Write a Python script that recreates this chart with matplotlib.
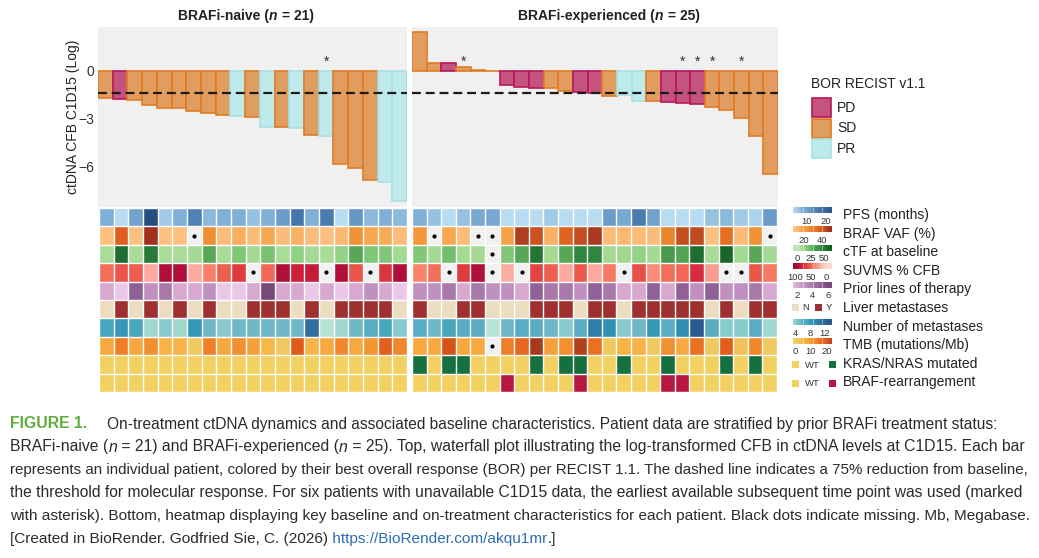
import matplotlib
matplotlib.use("Agg")
import matplotlib.pyplot as plt
import numpy as np
from matplotlib.colors import LinearSegmentedColormap, ListedColormap, to_rgba
from matplotlib.patches import Rectangle

W, H = 1039, 558            # output size (px)
DPI = 100

plt.rcParams['font.family'] = ['Liberation Sans', 'DejaVu Sans']

# waterfall: log CFB of ctDNA at C1D15, best overall response, asterisk flags
NAIVE_CFB = [-1.71, -1.75, -1.81, -2.13, -2.29, -2.33, -2.50, -2.65, -2.75, -2.81, -2.85,
             -3.48, -3.52, -3.58, -4.00, -4.04, -5.81, -6.08, -6.81, -6.92, -8.10]
NAIVE_BOR = ["SD", "PD", "SD", "SD", "SD", "SD", "SD", "SD", "SD", "PR", "SD",
             "PR", "SD", "PR", "SD", "PR", "SD", "SD", "SD", "PR", "PR"]
NAIVE_STAR = [15]

EXP_CFB = [2.42, 0.52, 0.48, 0.23, 0.04, 0.02, -0.88, -0.98, -1.08, -1.08, -1.23, -1.33,
           -1.40, -1.54, -1.50, -1.88, -1.88, -1.96, -2.02, -2.08, -2.23, -2.44, -2.96,
           -4.04, -6.46]
EXP_BOR = ["SD", "SD", "PD", "SD", "SD", "SD", "PD", "PD", "PD", "SD", "SD", "PD", "PD",
           "SD", "PR", "PR", "SD", "PD", "PD", "PD", "SD", "SD", "SD", "SD", "SD"]
EXP_STAR = [3, 18, 19, 20, 22]

THRESHOLD = np.log(0.25)    # 75% reduction
BOR_ORDER = ["PD", "SD", "PR"]

# heatmap rows (None = missing)
N = None
ROW_NAMES = ["PFS (months)", "BRAF VAF (%)", "cTF at baseline", "SUVMS % CFB",
             "Prior lines of therapy", "Liver metastases", "Number of metastases",
             "TMB (mutations/Mb)", "KRAS/NRAS mutated", "BRAF-rearrangement"]

naive_pfs = [8, 3, 10, 24, 5, 8, 15, 7, 8, 8, 6, 8, 11, 17, 8, 16, 3, 12, 7, 8, 7]
naive_vaf = [10, 38, 10, 50, 10, 10, N, 25, 11, 15, 11, 17, 11, 14, 11, 10, 12, 24, 17, 16, 11]
naive_ctf = [8, 55, 8, 50, 8, 8, 9, 30, 8, 18, 9, 20, 8, 14, 9, 8, 13, 30, 18, 18, 9]
naive_suv = [45, 55, 50, 22, 90, 90, 22, 40, 50, 65, N, 47, 90, 78, 82, N, 90, 55, N, 68, 90]
naive_lines = [2, 1, 5, 3, 4, 2, 2, 3, 1, 1, 2, 6, 2, 2, 1, 2, 1, 2, 3, 2, 1]
naive_liver = [0, 1, 0, 1, 0, 1, 0, 1, 0, 0, 1, 1, 1, 0, 1, 0, 1, 1, 1, 1, 0]
naive_nmet = [7, 8, 7, 3, 4, 3, 8, 5, 4, 5, 5, 5, 5, 5, 11, 2, 3, 5, 6, 7, 4]
naive_tmb = [8, 14, 8, 12, 6, 6, 2, 14, 8, 12, 9, 5, 2, 20, 6, 8, 13, 8, 11, 19, 13]
naive_kras = [0] * 21
naive_rearr = [0] * 21

exp_pfs = [8, 6, 3, 6, 9, 9, 3, 3, 3, 5, 3, 3, 3, 11, 9, 16, 10, 3, 3, 3, 6, 7, 5, 4, 11]
exp_vaf = [22, N, 17, 11, N, N, 19, 47, 42, 14, 37, 43, 48, 11, 12, 11, 11, 28, 43, 44,
           10, 34, 11, 24, N]
exp_ctf = [18, 9, 22, 9, 9, N, 18, 30, 52, 9, 30, 45, 45, 9, 10, 13, 9, 36, 32, 55, 8, 58,
           9, 30, 9]
exp_suv = [38, 45, N, 65, 90, N, 20, N, 62, 50, 22, 53, 23, 42, N, 57, 35, 46, 48, 72, 28,
           N, N, 54, 42]
exp_lines = [3, 3, 4, 2, 4, 3, 3, 2, 5, 4, 4, 3, 5, 4, 2, 2, 5, 2, 5, 3, 5, 3, 3, 4, 2]
exp_liver = [1, 0, 0, 1, 1, 0, 0, 0, 1, 1, 1, 0, 1, 1, 0, 1, 1, 1, 1, 1, 0, 1, 0, 1, 1]
exp_nmet = [6, 5, 7, 6, 6, 2, 5, 6, 6, 5, 4, 6, 10, 9, 4, 5, 8, 6, 9, 13, 6, 4, 4, 6, 3]
exp_tmb = [8, 8, 21, 8, 8, N, 14, 17, 25, 9, 12, 24, 16, 2, 6, 6, 2, 12, 8, 16, 2, 19, 3,
           13, 2]
exp_kras = [1, 0, 1, 1, 0, 0, 0, 0, 1, 0, 1, 1, 0, 0, 1, 0, 0, 1, 0, 0, 0, 1, 0, 1, 0]
exp_rearr = [0, 0, 0, 0, 0, 0, 1, 0, 0, 0, 0, 1, 0, 0, 0, 0, 0, 1, 1, 0, 0, 0, 0, 0, 0]

NAIVE_ROWS = [naive_pfs, naive_vaf, naive_ctf, naive_suv, naive_lines, naive_liver,
              naive_nmet, naive_tmb, naive_kras, naive_rearr]
EXP_ROWS = [exp_pfs, exp_vaf, exp_ctf, exp_suv, exp_lines, exp_liver,
            exp_nmet, exp_tmb, exp_kras, exp_rearr]

# legend ticks for the continuous rows: (value at left end, value at right end, ticks)
LEGEND_BARS = {0: (3, 23, [10, 20]),
               1: (7, 52, [20, 40]),
               2: (-8, 64, [0, 25, 50]),
               3: (106, -18, [100, 50, 0]),
               4: (1.4, 6.5, [2, 4, 6]),
               6: (3.2, 13.9, [4, 8, 12]),
               7: (-1.3, 23.3, [0, 10, 20])}
LEGEND_CATS = {5: ["N", "Y"], 8: ["WT", ""], 9: ["WT", ""]}

# colours
FACE = {"PD": "#c4537f", "SD": "#e09d5f", "PR": "#bfeaec"}
EDGE = {"PD": "#b8175a", "SD": "#e07c25", "PR": "#a9e1e5"}
MISSING = "#f1f1f1"
TXT = "#222222"


def cmap_from(stops, colors, vmin, vmax):
    pos = [(v - vmin) / (vmax - vmin) for v in stops]
    return LinearSegmentedColormap.from_list("c", list(zip(pos, colors)))


SCALES = [
    (cmap_from([0, 3, 8, 16, 25], ["#d4ecf8", "#b8dcf0", "#80b0d8", "#4a7cb0", "#24497a"], 0, 25), 0, 25),
    (cmap_from([0, 10, 17, 25, 38, 44, 50], ["#fdd8b0", "#fcc080", "#f8a850", "#f09030",
                                             "#e06020", "#c04c20", "#a03020"], 0, 50), 0, 50),
    (cmap_from([0, 8, 18, 30, 45, 60], ["#c0e8b0", "#a8dc98", "#80c878", "#58a858",
                                        "#308840", "#186028"], 0, 60), 0, 60),
    (cmap_from([0, 22, 40, 50, 65, 78, 90, 100], ["#fdd5cc", "#fcaaa0", "#f88068", "#f06050",
                                                  "#e03c40", "#d02038", "#b0103a", "#a00835"], 0, 100), 0, 100),
    (cmap_from([1, 2, 3, 4, 5, 6], ["#ecc8e8", "#d8a8d0", "#c090c0", "#a878a8",
                                    "#906098", "#784878"], 1, 6), 1, 6),
    (ListedColormap(["#ecdcc0", "#a03030"]), 0, 1),
    (cmap_from([1, 2, 3, 4, 5, 6, 7, 8, 9, 10, 11, 13],
               ["#cdeee0", "#b8e4d8", "#a0d8d0", "#88ccd0", "#70b8c8", "#58acc4", "#48a8c0",
                "#3898b8", "#3090b4", "#2e80a8", "#306fa0", "#285a90"], 1, 13), 1, 13),
    (cmap_from([0, 2, 5, 8, 12, 14, 17, 20, 25], ["#f3d068", "#f0c860", "#f8b848", "#f8a840",
                                                  "#f09030", "#f08028", "#e86820", "#e05a18",
                                                  "#a83a20"], 0, 25), 0, 25),
    (ListedColormap(["#f3d062", "#157040"]), 0, 1),
    (ListedColormap(["#f3d062", "#b81840"]), 0, 1),
]

fig = plt.figure(figsize=(W / DPI, H / DPI), dpi=DPI)


def px_axes(x0, y0, x1, y1):
    return fig.add_axes([x0 / W, 1 - y1 / H, (x1 - x0) / W, (y1 - y0) / H])


def waterfall(ax, cfb, bor, stars):
    x = np.arange(len(cfb))
    ax.bar(x, cfb, width=1.0, color=[FACE[b] for b in bor],
           edgecolor=[EDGE[b] for b in bor], linewidth=1.2)
    ax.axhline(THRESHOLD, color="#1a1a1a", lw=1.6, ls=(0, (4, 2.2)))
    for i in stars:
        ax.text(i, 0.35, "*", ha="center", va="baseline", fontsize=10, color="#333333")
    ax.set_xlim(-0.5, len(cfb) - 0.5)
    ax.set_ylim(-8.5, 2.75)
    ax.set_facecolor("#f0f0f0")
    for s in ax.spines.values():
        s.set_visible(False)
    ax.set_xticks([])
    ax.tick_params(axis="y", length=0, pad=3, labelsize=10, labelcolor="#333333")


def heat_rgb(rows):
    rgb = np.zeros((len(rows), len(rows[0]), 4))
    miss = []
    for r, vals in enumerate(rows):
        cm, lo, hi = SCALES[r]
        for c, v in enumerate(vals):
            if v is None:
                rgb[r, c] = to_rgba(MISSING)
                miss.append((c, r))
            else:
                rgb[r, c] = cm((v - lo) / (hi - lo))
    return rgb, miss


def heatmap(ax, rows):
    rgb, miss = heat_rgb(rows)
    nr, nc = rgb.shape[:2]
    ax.imshow(rgb, aspect="auto", interpolation="nearest",
              extent=(-0.5, nc - 0.5, nr - 0.5, -0.5))
    ax.vlines(np.arange(nc + 1) - 0.5, -0.5, nr - 0.5, color="white", lw=1.0)
    ax.hlines(np.arange(nr + 1) - 0.5, -0.5, nc - 0.5, color="white", lw=1.0)
    if miss:
        mx, my = zip(*miss)
        ax.scatter(mx, my, s=4, color="black", zorder=3)
    ax.set_xlim(-0.5, nc - 0.5)
    ax.set_ylim(nr - 0.5, -0.5)
    ax.axis("off")


# top: waterfall plots
ax_l = px_axes(98, 27, 407, 207)
waterfall(ax_l, NAIVE_CFB, NAIVE_BOR, NAIVE_STAR)
ax_l.set_yticks([0, -3, -6])
ax_l.set_yticklabels(["0", "\u22123", "\u22126"])

ax_r = px_axes(412, 27, 778, 207)
waterfall(ax_r, EXP_CFB, EXP_BOR, EXP_STAR)
ax_r.set_yticks([])

fig.text(73 / W, 1 - 117 / H, "ctDNA CFB C1D15 (Log)", rotation=90,
         ha="center", va="center", fontsize=10, color=TXT)

# bottom: heatmaps
heatmap(px_axes(99, 208, 407, 392), NAIVE_ROWS)
heatmap(px_axes(412, 208, 777, 392), EXP_ROWS)

# legends, drawn in pixel coordinates
lg = fig.add_axes([0, 0, 1, 1])
lg.set_autoscale_on(False)
lg.set_xlim(0, W)
lg.set_ylim(H, 0)
lg.axis("off")

lg.text(811, 84, "BOR RECIST v1.1", fontsize=10, va="center", color=TXT)
for k, b in enumerate(BOR_ORDER):
    y0 = 98 + k * 20.7
    lg.add_patch(Rectangle((812, y0), 19, 19, facecolor=FACE[b], edgecolor=EDGE[b], lw=1.2))
    lg.text(837, y0 + 9.5, b, fontsize=10, va="center", color=TXT)

CB_X0, CB_X1 = 793, 832
for k, name in enumerate(ROW_NAMES):
    yc = 215 + k * 18.6
    lg.text(843, yc, name, fontsize=10, va="center", color=TXT)
    cm, lo, hi = SCALES[k]
    if k in LEGEND_BARS:
        vl, vr, ticks = LEGEND_BARS[k]
        vals = np.linspace(vl, vr, 80)
        cols = cm(np.clip((vals - lo) / (hi - lo), 0, 1))
        lg.imshow(cols[None], extent=(CB_X0, CB_X1, yc - 1.5, yc - 7.2),
                  aspect="auto", interpolation="bilinear")
        for q in (0.25, 0.5, 0.75):
            xq = CB_X0 + q * (CB_X1 - CB_X0)
            lg.plot([xq, xq], [yc - 7.2, yc - 1.5], color="white", lw=0.5, alpha=0.6)
        for t in ticks:
            tx = CB_X0 + (t - vl) / (vr - vl) * (CB_X1 - CB_X0)
            lg.text(tx, yc + 6.6, str(t), fontsize=6.8, ha="center", va="center", color="#333333")
    else:
        labels = LEGEND_CATS[k]
        if k == 5:
            xs, tx = [792, 815], [806, 829]
            ys = yc - 1
        else:
            xs, tx = [792, 829], [812, None]
            ys = yc + 1
        for j, lab in enumerate(labels):
            lg.add_patch(Rectangle((xs[j], ys - 3.5), 7, 7, facecolor=cm(j), edgecolor="none"))
            if lab:
                lg.text(tx[j], ys + 0.5, lab, fontsize=6.8, ha="center", va="center", color="#333333")

lg.set_xlim(0, W)
lg.set_ylim(H, 0)

# titles and caption (pieces laid out one after another)
fig.canvas.draw()
rend = fig.canvas.get_renderer()


def pieces_width(pieces, size):
    total = 0
    for s, kw in pieces:
        t = fig.text(0, 0, s, fontsize=size, **kw)
        total += t.get_window_extent(rend).width
        t.remove()
    return total


def put_pieces(x, y, pieces, size):
    for s, kw in pieces:
        t = fig.text(x / W, 1 - y / H, s, fontsize=size, va="center", ha="left", **kw)
        x += t.get_window_extent(rend).width
    return x


BOLD = dict(color=TXT, fontweight="bold")
BOLD_IT = dict(color=TXT, fontweight="bold", style="italic")
for cx, name, n in [(246, "BRAFi-naive", 21), (609, "BRAFi-experienced", 25)]:
    title = [(name + " (", BOLD), ("n", BOLD_IT), (f" = {n})", BOLD)]
    put_pieces(cx - pieces_width(title, 10) / 2, 16, title, 10)

BODY = dict(color="#2b2b2b")
IT = dict(color="#2b2b2b", style="italic")
FIGLAB = dict(color="#5fae3a", fontweight="bold")
LINK = dict(color="#2c6db5")
caption = [
    (424, 10, 87, [("FIGURE 1.", FIGLAB)]),
    (424, 107, 1000, [("On-treatment ctDNA dynamics and associated baseline characteristics. "
                       "Patient data are stratified by prior BRAFi treatment status:", BODY)]),
    (447, 10, 1027, [("BRAFi-naive (", BODY), ("n", IT), (" = 21) and BRAFi-experienced (", BODY),
                     ("n", IT), (" = 25). Top, waterfall plot illustrating the log-transformed CFB "
                                 "in ctDNA levels at C1D15. Each bar", BODY)]),
    (470, 10, 1029, [("represents an individual patient, colored by their best overall response "
                      "(BOR) per RECIST 1.1. The dashed line indicates a 75% reduction from baseline,",
                      BODY)]),
    (493, 10, 1024, [("the threshold for molecular response. For six patients with unavailable "
                      "C1D15 data, the earliest available subsequent time point was used (marked",
                      BODY)]),
    (516, 10, 1035, [("with asterisk). Bottom, heatmap displaying key baseline and on-treatment "
                      "characteristics for each patient. Black dots indicate missing. Mb, Megabase.",
                      BODY)]),
    (539, 10, None, [("[Created in BioRender. Godfried Sie, C. (2026)", BODY),
                     (" https://BioRender.com/akqu1mr", LINK), (".]", BODY)]),
]
size = 10
for y, x0, x1, pieces in caption:
    if x1 is not None:
        size = 10 * (x1 - x0) / pieces_width(pieces, 10)
    put_pieces(x0, y, pieces, size)

fig.savefig("out.png", dpi=DPI)
